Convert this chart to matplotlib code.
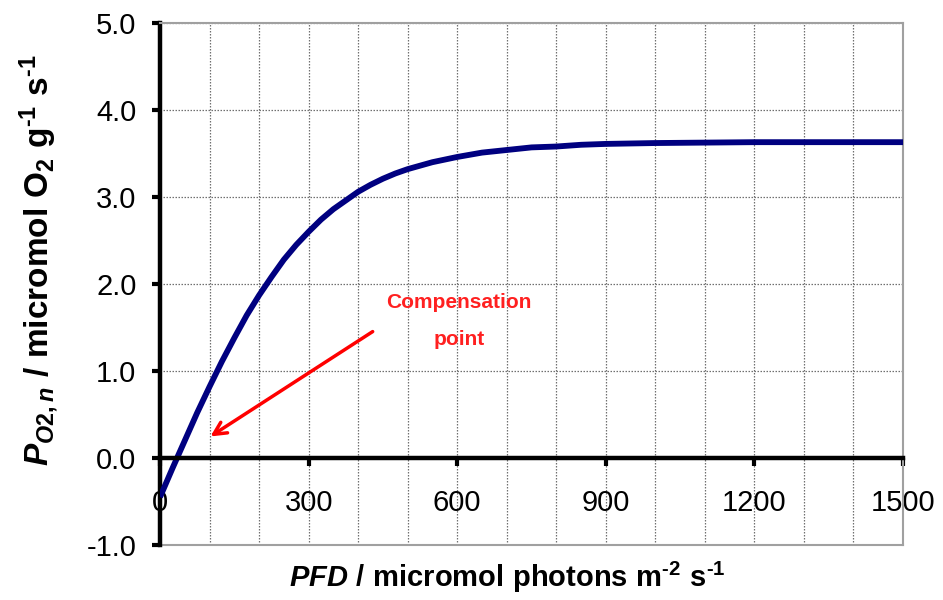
import matplotlib
matplotlib.use("Agg")
import matplotlib.pyplot as plt
from matplotlib.ticker import MultipleLocator, FixedLocator

# Data
pfd = [0, 25, 50, 75, 100, 125, 150, 175, 200, 225, 250, 275, 300, 325, 350,
       375, 400, 425, 450, 475, 500, 550, 600, 650, 700, 750, 800, 850, 900,
       1000, 1200, 1500]
po2 = [-0.45, -0.12, 0.20, 0.52, 0.82, 1.11, 1.38, 1.64, 1.87, 2.08, 2.28,
       2.45, 2.60, 2.74, 2.86, 2.96, 3.06, 3.14, 3.21, 3.27, 3.32, 3.40, 3.46,
       3.51, 3.54, 3.57, 3.58, 3.60, 3.61, 3.62, 3.63, 3.63]
x_ticks = [0, 300, 600, 900, 1200, 1500]
y_ticks = [-1.0, 0.0, 1.0, 2.0, 3.0, 4.0, 5.0]
annot_text = "Compensation\npoint"
annot_xy = (97, 0.23)
annot_text_xy = (603, 1.57)
arrow_tail = (434, 1.47)

plt.rcParams['font.family'] = ['Liberation Sans', 'DejaVu Sans']
plt.rcParams['mathtext.fontset'] = 'custom'
plt.rcParams['mathtext.rm'] = 'Liberation Sans:bold'
plt.rcParams['mathtext.bf'] = 'Liberation Sans:bold'
plt.rcParams['mathtext.it'] = 'Liberation Sans:bold:italic'

fig = plt.figure(figsize=(9.43, 6.0), dpi=100)
ax = fig.add_axes([0.1697, 0.0917, 0.7879, 0.87])

ax.set_xlim(0, 1500)
ax.set_ylim(-1, 5)

# grid
grid_style = dict(color='#707070', linestyle=(0, (1.2, 1.2)), linewidth=0.9)
ax.xaxis.set_minor_locator(MultipleLocator(100))
ax.grid(which='minor', axis='x', **grid_style)
ax.grid(which='major', axis='x', **grid_style)
ax.grid(which='major', axis='y', **grid_style)
ax.set_axisbelow(True)

ax.plot(pfd, po2, color='#000080', linewidth=4.2, solid_capstyle='butt', zorder=3)

# spines
ax.spines['left'].set_color('black')
ax.spines['left'].set_linewidth(3.2)
ax.spines['bottom'].set_position(('data', 0))
ax.spines['bottom'].set_color('black')
ax.spines['bottom'].set_linewidth(3.2)
ax.spines['bottom'].set_zorder(4)
ax.spines['top'].set_color('#a0a0a0')
ax.spines['top'].set_linewidth(1.5)
ax.spines['right'].set_color('#a0a0a0')
ax.spines['right'].set_linewidth(1.5)
ax.axhline(-1, color='#a0a0a0', linewidth=1.5, zorder=2, clip_on=False)

ax.xaxis.set_major_locator(FixedLocator(x_ticks))
ax.set_xticklabels([str(v) for v in x_ticks])
ax.yaxis.set_major_locator(FixedLocator(y_ticks))
ax.set_yticklabels([f"{v:.1f}" for v in y_ticks])
ax.tick_params(axis='x', which='major', direction='out', length=6, width=3, pad=16,
               labelsize=21, colors='black')
ax.tick_params(axis='x', which='minor', length=0)
ax.tick_params(axis='y', which='major', direction='out', length=6, width=3, pad=11,
               labelsize=21, colors='black')

hy = '\u2010'
fig.text(0.538, 0.037,
         r"$\mathit{PFD}\ /\ \mathrm{micromol\ photons\ m}^{" + hy + r"2}\ \mathrm{s}^{" + hy + r"1}$",
         ha='center', va='center', fontsize=21)
fig.text(0.042, 0.567,
         r"$\mathit{P}_{\mathit{O2,n}}\ /\ \mathrm{micromol\ O}_{2}\ \mathrm{g}^{" + hy + r"1}\ \mathrm{s}^{" + hy + r"1}$",
         ha='center', va='center', rotation=90, fontsize=24)

ax.annotate('', xy=annot_xy, xytext=arrow_tail,
            arrowprops=dict(arrowstyle='->,head_length=0.9,head_width=0.45', color='#ff0000', lw=2.5),
            zorder=5)
ax.text(annot_text_xy[0], annot_text_xy[1], annot_text, color='#ff2020', fontsize=15,
        fontweight='bold', ha='center', va='center', linespacing=2.2)

fig.savefig('out.png', dpi=100)
